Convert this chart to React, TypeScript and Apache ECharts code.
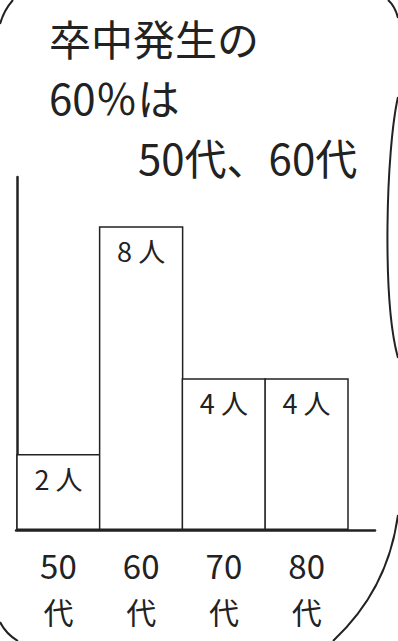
import React, { useEffect, useRef } from "react";
import * as echarts from "echarts";

const decades = ["50", "60", "70", "80"];
const decadeSuffix = ["代", "代", "代", "代"];
const counts = [2, 8, 4, 4];
const unit = "人";
const titleLines = ["卒中発生の", "60％は", "50代、60代"];

const FONT = "'Noto Sans CJK JP', 'Noto Sans', sans-serif";
const INK = "#222";

export default function App() {
  const ref = useRef<HTMLDivElement>(null);
  useEffect(() => {
    document.body.style.margin = "0";
    const chart = echarts.init(ref.current!, undefined, { renderer: "svg" });
    const hiddenAxisBits = {
      axisLine: { show: false },
      axisTick: { show: false },
      splitLine: { show: false },
    };
    chart.setOption({
      animation: false,
      backgroundColor: "#fff",
      grid: [
        { left: 17, right: 50, top: 177, bottom: 111 },
        { left: 16, right: 23, top: 177, bottom: 111 },
      ],
      xAxis: [
        {
          type: "category",
          gridIndex: 0,
          data: decades,
          ...hiddenAxisBits,
          axisLabel: {
            margin: 18,
            fontSize: 33,
            color: INK,
            fontFamily: FONT,
          },
        },
        {
          type: "value",
          gridIndex: 1,
          min: 0,
          max: 1,
          axisLine: { show: true, lineStyle: { color: INK, width: 2.5 } },
          axisTick: { show: false },
          axisLabel: { show: false },
          splitLine: { show: false },
        },
        {
          type: "category",
          gridIndex: 0,
          position: "bottom",
          offset: 44,
          data: decadeSuffix,
          ...hiddenAxisBits,
          axisLabel: {
            margin: 22,
            fontSize: 30,
            color: INK,
            fontFamily: FONT,
          },
        },
      ],
      yAxis: [
        {
          type: "value",
          gridIndex: 0,
          min: 0,
          max: 9.3,
          axisLine: { show: true, lineStyle: { color: INK, width: 2.5 } },
          axisTick: { show: false },
          axisLabel: { show: false },
          splitLine: { show: false },
        },
        {
          type: "value",
          gridIndex: 1,
          show: false,
          min: 0,
          max: 1,
        },
      ],
      series: [
        {
          type: "bar",
          xAxisIndex: 0,
          yAxisIndex: 0,
          data: counts,
          barWidth: 84.5,
          barCategoryGap: "0%",
          itemStyle: { color: "#fff", borderColor: INK, borderWidth: 1.5 },
          label: {
            show: true,
            position: "insideTop",
            distance: 11,
            formatter: (p: any) => `${p.value} ${unit}`,
            fontSize: 27,
            color: INK,
            fontFamily: FONT,
          },
        },
      ],
      graphic: [
        {
          type: "text",
          left: 49,
          top: 16,
          style: { text: titleLines[0], fontSize: 42, fill: INK, fontFamily: FONT },
        },
        {
          type: "text",
          left: 49,
          top: 75,
          style: { text: titleLines[1], fontSize: 42, fill: INK, fontFamily: FONT },
        },
        {
          type: "text",
          left: 138,
          top: 135,
          style: { text: titleLines[2], fontSize: 42, fill: INK, fontFamily: FONT },
        },
        {
          type: "bezierCurve",
          shape: { x1: 0, y1: 24, cpx1: 4, cpy1: 10, x2: 13, y2: 0 },
          style: { stroke: INK, lineWidth: 2, fill: "none" },
        },
        {
          type: "bezierCurve",
          shape: { x1: 388, y1: 0, cpx1: 395, cpy1: 6, x2: 398, y2: 18 },
          style: { stroke: INK, lineWidth: 2, fill: "none" },
        },
        {
          type: "bezierCurve",
          shape: { x1: 398, y1: 97, cpx1: 386, cpy1: 150, cpx2: 382, cpy2: 300, x2: 398, y2: 358 },
          style: { stroke: INK, lineWidth: 2, fill: "none" },
        },
        {
          type: "bezierCurve",
          shape: { x1: 398, y1: 515, cpx1: 388, cpy1: 590, x2: 333, y2: 641 },
          style: { stroke: INK, lineWidth: 2, fill: "none" },
        },
        {
          type: "bezierCurve",
          shape: { x1: 0, y1: 622, cpx1: 6, cpy1: 634, x2: 18, y2: 641 },
          style: { stroke: INK, lineWidth: 2, fill: "none" },
        },
      ],
    });
    return () => chart.dispose();
  }, []);
  return (
    <div
      ref={ref}
      style={{ position: "absolute", left: 0, top: 0, width: 398, height: 641 }}
    />
  );
}
